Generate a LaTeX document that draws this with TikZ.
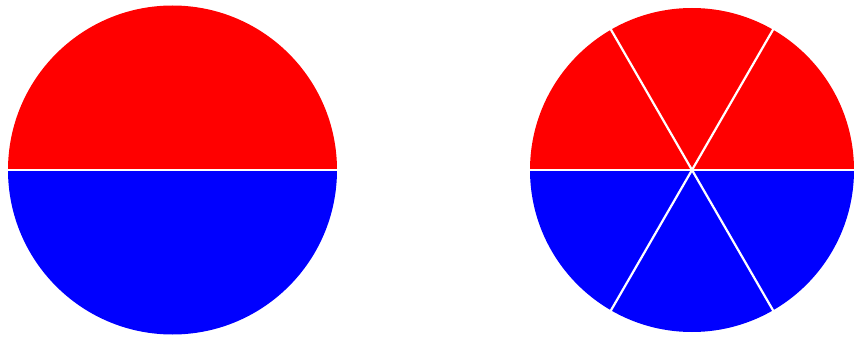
\documentclass[tikz,border=0pt]{standalone}
\usepackage{tikz}
\usetikzlibrary{calc}
\begin{document}
\begin{tikzpicture}[x=1pt,y=-1pt,
  sep/.style={draw=white,line width=2.2pt}]
\useasboundingbox (0,0) rectangle (854,342);
% left circle
\coordinate (L) at (172.5,170);
\fill[red] (L) ++(-164.5,0) arc[start angle=180,end angle=360,radius=164.5] -- cycle;
\fill[blue] (L) ++(-164.5,0) arc[start angle=180,end angle=0,radius=164.5] -- cycle;
\draw[sep] ($(L)+(-165,0)$) -- ($(L)+(165,0)$);
% right circle
\coordinate (R) at (692,170);
\fill[red] (R) ++(-162,0) arc[start angle=180,end angle=360,radius=162] -- cycle;
\fill[blue] (R) ++(-162,0) arc[start angle=180,end angle=0,radius=162] -- cycle;
\foreach \a in {0,60,120} {
  \draw[sep] (R) ++(\a:-163) -- ++(\a:326);
}
\end{tikzpicture}
\end{document}
